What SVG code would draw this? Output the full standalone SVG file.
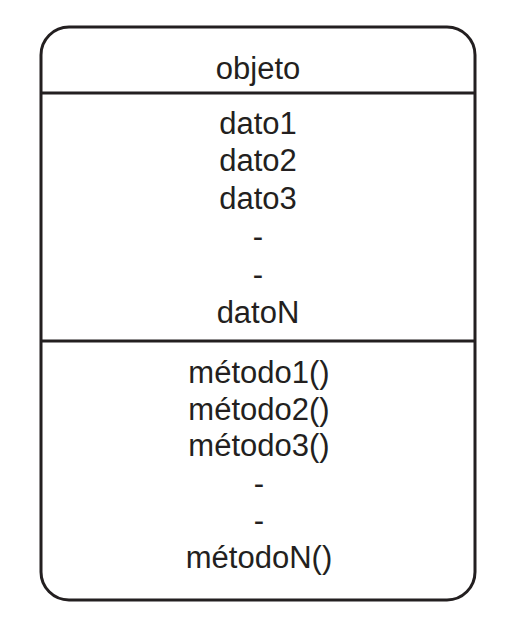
<svg xmlns="http://www.w3.org/2000/svg" width="512" height="622" viewBox="0 0 512 622">
  <style>
    .frame { fill: #ffffff; stroke: #231f20; stroke-width: 3; }
    .rule { stroke: #231f20; stroke-width: 3; }
    .label { font-family: "Liberation Sans", Arial, sans-serif; font-size: 31px; fill: #231f20; text-anchor: middle; }
  </style>
  <rect width="512" height="622" fill="#ffffff"/>
  <g id="objeto">
    <rect class="frame" x="41" y="27" width="434" height="573" rx="28" ry="28"/>
    <line class="rule" x1="41" y1="93" x2="475" y2="93"/>
    <line class="rule" x1="41" y1="341" x2="475" y2="341"/>
    <text class="label" x="258" y="79">objeto</text>
    <g id="datos">
      <text class="label" x="258" y="134">dato1</text>
      <text class="label" x="258" y="171">dato2</text>
      <text class="label" x="258" y="209">dato3</text>
      <text class="label" x="258" y="247">-</text>
      <text class="label" x="258" y="285">-</text>
      <text class="label" x="258" y="323">datoN</text>
    </g>
    <g id="metodos">
      <text class="label" x="259" y="383">método1()</text>
      <text class="label" x="259" y="420">método2()</text>
      <text class="label" x="259" y="456">método3()</text>
      <text class="label" x="259" y="494">-</text>
      <text class="label" x="259" y="531">-</text>
      <text class="label" x="259" y="568">métodoN()</text>
    </g>
  </g>
</svg>
